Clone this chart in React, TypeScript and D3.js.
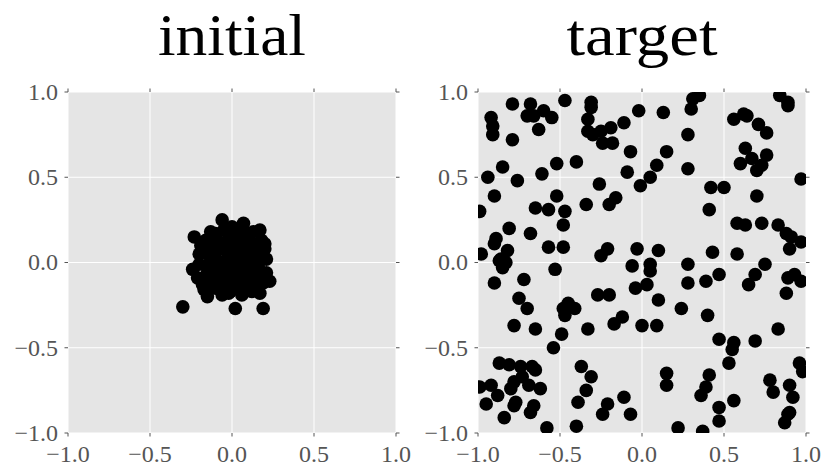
import React from "react";
import * as d3 from "d3";

const tickValues = [-1, -0.5, 0, 0.5, 1];
const panelTitles = ["initial", "target"];

const initialPoints: [number, number][] = [
  [-0.30, -0.26], [0.02, -0.27], [0.19, -0.27], [-0.23, 0.15], [-0.06, 0.25], [0.07, 0.23],
  [0.17, 0.19], [-0.24, -0.04], [-0.15, -0.20], [0.23, -0.11], [0.20, 0.11], [-0.13, 0.18],
  [0.00, 0.21], [-0.06, -0.19], [-0.01, -0.17], [0.06, -0.19], [0.12, -0.17], [0.17, -0.18],
  [0.20, 0.08], [0.21, 0.02], [0.21, -0.06], [0.19, -0.12], [0.18, 0.13], [-0.19, 0.10],
  [-0.20, 0.05], [-0.20, -0.01], [-0.21, -0.09], [-0.18, -0.13], [-0.17, -0.16], [-0.10, 0.17],
  [-0.05, 0.19], [0.04, 0.19], [0.10, 0.17], [0.13, 0.18], [-0.16, 0.13], [-0.14, 0.10],
  [-0.08, 0.12], [-0.02, 0.14], [0.03, 0.13], [0.09, 0.12], [0.15, 0.10], [-0.15, 0.05],
  [-0.10, 0.06], [-0.05, 0.08], [0.01, 0.07], [0.06, 0.08], [0.11, 0.06], [0.16, 0.04],
  [-0.14, -0.01], [-0.09, 0.01], [-0.03, 0.02], [0.02, 0.01], [0.07, 0.02], [0.12, 0.00],
  [0.16, -0.02], [-0.15, -0.06], [-0.10, -0.05], [-0.04, -0.04], [0.01, -0.05], [0.06, -0.04],
  [0.11, -0.06], [0.16, -0.08], [-0.13, -0.11], [-0.08, -0.10], [-0.02, -0.09], [0.03, -0.11],
  [0.08, -0.10], [0.13, -0.12], [-0.10, -0.15], [-0.04, -0.14], [0.02, -0.15], [0.08, -0.15],
  [0.14, -0.15], [0.00, 0.00], [0.03, 0.04], [-0.06, -0.02], [0.05, -0.08], [-0.02, 0.10],
  [0.09, -0.02], [-0.11, 0.03], [0.13, 0.08], [-0.07, -0.13], [0.04, 0.16], [-0.02, -0.18],
  [0.10, 0.14], [-0.12, 0.14], [0.07, -0.13], [-0.16, -0.09],
];

const targetPoints: [number, number][] = [
  [-0.79, 0.93], [-0.68, 0.93], [-0.70, 0.86], [-0.66, 0.86], [-0.60, 0.89], [-0.55, 0.85],
  [-0.63, 0.78], [-0.47, 0.95], [-0.31, 0.94], [-0.31, 0.91], [-0.33, 0.84], [-0.33, 0.77],
  [-0.30, 0.75], [-0.25, 0.77], [-0.19, 0.79], [-0.24, 0.70], [-0.18, 0.70], [-0.11, 0.82],
  [-0.02, 0.89], [-0.07, 0.65], [-0.92, 0.85], [-0.91, 0.80], [-0.91, 0.75], [-0.79, 0.72],
  [-0.52, 0.58], [-0.40, 0.59], [-0.85, 0.56], [-0.61, 0.52], [-0.94, 0.50], [-0.76, 0.48],
  [-0.09, 0.53], [0.05, 0.50], [-0.26, 0.46], [-0.01, 0.45], [-0.90, 0.39], [-0.52, 0.39],
  [-0.16, 0.38], [-0.20, 0.34], [-0.34, 0.34], [-0.65, 0.32], [-0.57, 0.31], [-0.47, 0.30],
  [-0.99, 0.30], [-0.48, 0.22], [-0.81, 0.20], [-0.68, 0.17], [-0.89, 0.14], [-0.90, 0.11],
  [-0.57, 0.09], [-0.48, 0.09], [-0.82, 0.07], [-0.98, 0.05], [-0.21, 0.08], [-0.25, 0.04],
  [-0.03, 0.08], [-0.86, 0.02],
  [0.13, 0.88], [0.30, 0.90], [0.31, 0.96], [0.35, 0.98], [0.28, 0.75], [0.56, 0.84],
  [0.62, 0.87], [0.64, 0.86], [0.71, 0.81], [0.76, 0.76], [0.84, 0.98], [0.89, 0.94],
  [0.89, 0.92], [0.15, 0.65], [0.09, 0.57], [0.28, 0.55], [0.63, 0.67], [0.67, 0.61],
  [0.76, 0.63], [0.60, 0.58], [0.73, 0.57], [0.70, 0.54], [0.97, 0.49], [0.42, 0.44],
  [0.50, 0.44], [0.70, 0.39], [0.41, 0.31], [0.58, 0.23], [0.63, 0.22], [0.73, 0.23],
  [0.83, 0.22], [0.88, 0.17], [0.91, 0.15], [0.97, 0.12], [0.90, 0.08], [0.10, 0.07],
  [0.43, 0.06], [0.58, 0.05],
  [-0.87, 0.01], [-0.83, 0.00], [-0.85, -0.03], [-0.53, -0.04], [-0.90, -0.12], [-0.72, -0.10],
  [-0.06, -0.02], [0.05, -0.01], [0.05, -0.05], [-0.04, -0.15], [0.03, -0.13], [-0.75, -0.21],
  [-0.27, -0.19], [-0.20, -0.19], [-0.70, -0.27], [-0.48, -0.27], [-0.45, -0.24], [-0.41, -0.27],
  [-0.47, -0.31], [-0.78, -0.37], [-0.65, -0.39], [-0.49, -0.42], [-0.33, -0.39], [-0.17, -0.36],
  [-0.12, -0.32], [0.00, -0.37], [-0.54, -0.50], [-0.87, -0.59], [-0.81, -0.60], [-0.74, -0.61],
  [-0.67, -0.61], [-0.65, -0.63], [-0.73, -0.67], [-0.78, -0.70], [-0.80, -0.74], [-0.92, -0.72],
  [-0.99, -0.73], [-0.69, -0.72], [-0.62, -0.74], [-0.88, -0.78], [-0.95, -0.83], [-0.77, -0.82],
  [-0.78, -0.84], [-0.66, -0.84], [-0.68, -0.88], [-0.84, -0.91], [-0.58, -0.97], [-0.40, -0.96],
  [-0.37, -0.61], [-0.31, -0.67], [-0.34, -0.75], [-0.39, -0.82], [-0.21, -0.83], [-0.24, -0.89],
  [-0.11, -0.79], [-0.07, -0.89],
  [0.28, -0.01], [0.28, -0.12], [0.39, -0.11], [0.47, -0.07], [0.75, -0.01], [0.69, -0.07],
  [0.65, -0.13], [0.89, -0.09], [0.93, -0.07], [0.97, -0.11], [0.88, -0.18], [0.10, -0.22],
  [0.24, -0.27], [0.40, -0.31], [0.09, -0.37], [0.83, -0.39], [0.47, -0.45], [0.56, -0.47],
  [0.55, -0.51], [0.69, -0.46], [0.53, -0.59], [0.96, -0.59], [0.98, -0.64], [0.15, -0.65],
  [0.15, -0.72], [0.41, -0.66], [0.78, -0.69], [0.80, -0.76], [0.90, -0.72], [0.39, -0.73],
  [0.36, -0.78], [0.92, -0.79], [0.56, -0.81], [0.47, -0.85], [0.90, -0.88], [0.89, -0.89],
  [0.47, -0.93], [0.87, -0.94], [0.22, -0.97], [0.37, -0.99],
];

const W = 830;
const H = 475;
const panels = [
  { x0: 68, x1: 396, data: initialPoints, title: panelTitles[0], titleLen: 148 },
  { x0: 478, x1: 806, data: targetPoints, title: panelTitles[1], titleLen: 151 },
];
const Y0 = 92;
const Y1 = 433;
const FONT = "'Liberation Serif', 'DejaVu Serif', serif";
const fmt = d3.format(".1f");

function Panel({ p, idx }: { p: typeof panels[number]; idx: number }) {
  const x = d3.scaleLinear().domain([-1, 1]).range([p.x0, p.x1]);
  const y = d3.scaleLinear().domain([-1, 1]).range([Y1, Y0]);
  const clipId = `clip-${idx}`;
  const tl = 3.5;
  return (
    <g>
      <defs>
        <clipPath id={clipId}>
          <rect x={p.x0} y={Y0} width={p.x1 - p.x0} height={Y1 - Y0} />
        </clipPath>
      </defs>
      <rect x={p.x0} y={Y0} width={p.x1 - p.x0} height={Y1 - Y0} fill="#e5e5e5" />
      {tickValues.map((t) => (
        <g key={`g${t}`}>
          <line x1={x(t)} x2={x(t)} y1={Y0} y2={Y1} stroke="#ffffff" strokeWidth={1} />
          <line x1={p.x0} x2={p.x1} y1={y(t)} y2={y(t)} stroke="#ffffff" strokeWidth={1} />
        </g>
      ))}
      <g clipPath={`url(#${clipId})`}>
        {p.data.map((d, i) => (
          <circle key={i} cx={x(d[0])} cy={y(d[1])} r={6.8} fill="#000" />
        ))}
      </g>
      {tickValues.map((t) => (
        <g key={`t${t}`} stroke="#555" strokeWidth={1}>
          <line x1={x(t)} x2={x(t)} y1={Y1} y2={Y1 + tl} />
          <line x1={x(t)} x2={x(t)} y1={Y0} y2={Y0 - tl} />
          <line x1={p.x0} x2={p.x0 - tl} y1={y(t)} y2={y(t)} />
          <line x1={p.x1} x2={p.x1 + tl} y1={y(t)} y2={y(t)} />
        </g>
      ))}
      {tickValues.map((t) => (
        <text
          key={`xl${t}`}
          x={x(t)}
          y={Y1 + 29}
          textAnchor="middle"
          fontFamily={FONT}
          fontSize={24}
          fill="#555"
        >
          {fmt(t)}
        </text>
      ))}
      {tickValues.map((t) => (
        <text
          key={`yl${t}`}
          x={p.x0 - 10}
          y={y(t)}
          dy="0.33em"
          textAnchor="end"
          fontFamily={FONT}
          fontSize={24}
          fill="#555"
        >
          {fmt(t)}
        </text>
      ))}
      <text
        x={(p.x0 + p.x1) / 2}
        y={55}
        textAnchor="middle"
        fontFamily={FONT}
        fontSize={59}
        textLength={p.titleLen}
        lengthAdjust="spacingAndGlyphs"
        fill="#000"
      >
        {p.title}
      </text>
    </g>
  );
}

export default function App() {
  return (
    <svg
      width={W}
      height={H}
      viewBox={`0 0 ${W} ${H}`}
      style={{ position: "absolute", left: 0, top: 0, background: "#fff" }}
    >
      <rect width={W} height={H} fill="#fff" />
      {panels.map((p, i) => (
        <Panel key={i} p={p} idx={i} />
      ))}
    </svg>
  );
}
